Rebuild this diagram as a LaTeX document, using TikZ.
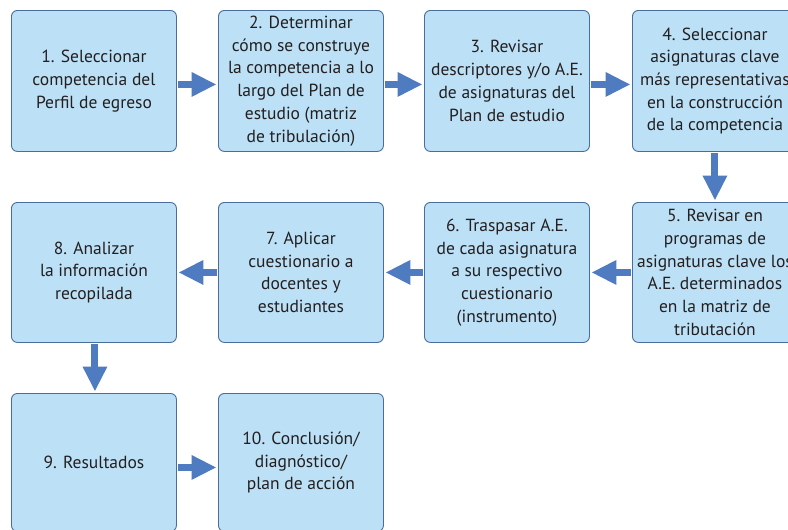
\documentclass[tikz,border=0pt]{standalone}
\usepackage{fontspec}
\setmainfont{PT Sans}
\usetikzlibrary{arrows.meta}
\definecolor{boxfill}{HTML}{BCE0F5}
\definecolor{boxline}{HTML}{4A6E9C}
\definecolor{arrowc}{HTML}{4F7BC1}
\definecolor{txt}{HTML}{231F20}
\begin{document}
\begin{tikzpicture}[x=1pt,y=-1pt,
  stepbox/.style={draw=boxline, line width=0.9pt, fill=boxfill, rounded corners=6pt,
    minimum width=165pt, minimum height=141pt, anchor=north west, inner sep=0pt,
    align=center, text=txt, font=\fontsize{17.5}{22.7}\selectfont},
  flow/.style={draw=arrowc, line width=7pt, -{Triangle[width=23pt,length=25pt]}, shorten >=1.5pt, shorten <=1pt}]
\useasboundingbox (0,0) rectangle (788,530);
\clip (0,0) rectangle (788,530);
\fill[white] (0,0) rectangle (788,530);
\node[stepbox] (b1) at (11,10) {1. Seleccionar\\competencia del\\Perfil de egreso};
\node[stepbox] (b2) at (218,10) {2. Determinar\\cómo se construye\\la competencia a lo\\largo del Plan de\\estudio (matriz\\de tribulación)};
\node[stepbox] (b3) at (424,10) {3. Revisar\\descriptores y/o A.E.\\de asignaturas del\\Plan de estudio};
\node[stepbox] (b4) at (632,10) {4. Seleccionar\\asignaturas clave\\más representativas\\en la construcción\\de la competencia};
\node[stepbox, minimum height=140pt] (b5) at (632,202) {5. Revisar en\\programas de\\asignaturas clave los\\A.E. determinados\\en la matriz de\\tributación};
\node[stepbox, minimum height=140pt] (b6) at (424,202) {6. Traspasar A.E.\\de cada asignatura\\a su respectivo\\cuestionario\\(instrumento)};
\node[stepbox, minimum height=140pt] (b7) at (218,202) {7. Aplicar\\cuestionario a\\docentes y\\estudiantes};
\node[stepbox, minimum height=140pt] (b8) at (11,202) {8. Analizar\\la información\\recopilada};
\node[stepbox, minimum height=138pt] (b9) at (11,393) {9. Resultados};
\node[stepbox, minimum height=138pt] (b10) at (218,393) {10. Conclusión/\\diagnóstico/\\plan de acción};
\draw[flow] ([yshift=-3.5pt]b1.east) -- ([yshift=-3.5pt]b2.west);
\draw[flow] ([yshift=-3.5pt]b2.east) -- ([yshift=-3.5pt]b3.west);
\draw[flow] ([yshift=-3.5pt]b3.east) -- ([yshift=-3.5pt]b4.west);
\draw[flow] (b4.south) -- (b5.north);
\draw[flow] (b5.west) -- (b6.east);
\draw[flow] (b6.west) -- (b7.east);
\draw[flow] (b7.west) -- (b8.east);
\draw[flow] ([xshift=1pt]b8.south) -- ([xshift=1pt]b9.north);
\draw[flow] ([yshift=-5pt]b9.east) -- ([yshift=-5pt]b10.west);
\end{tikzpicture}
\end{document}
